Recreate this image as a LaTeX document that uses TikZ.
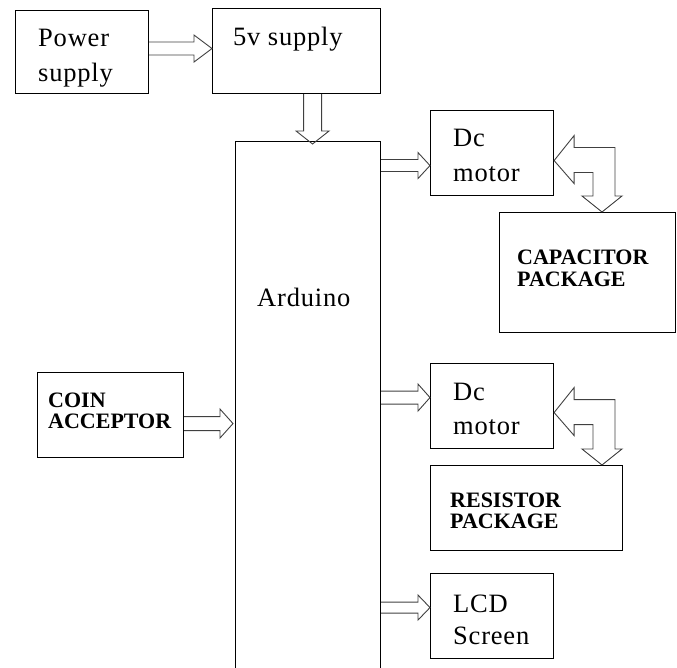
\documentclass[tikz,border=0pt]{standalone}
\usepackage{fontspec}
\setmainfont{Liberation Serif}
\newfontfamily\wideserif[LetterSpace=3]{Liberation Serif}
\usetikzlibrary{calc}
\tikzset{
  box/.style={draw=black, line width=1.1pt, inner sep=0pt, anchor=north west},
  txt/.style={font=\wideserif\fontsize{26.5}{30}\selectfont, inner sep=0pt, anchor=base west},
  btxt/.style={font=\bfseries\fontsize{22}{24}\selectfont, inner sep=0pt, anchor=base west},
  barrow/.style={draw=black!75, line width=0.9pt, line join=miter}
}
\newcommand\blkarrowH[5]{\draw[barrow] let \p1=(#1), \p2=(#2) in
  (\x1,\y2+#3pt) -- (\x2-#5pt,\y2+#3pt) -- (\x2-#5pt,\y2+#4pt) -- (\x2,\y2)
  -- (\x2-#5pt,\y2-#4pt) -- (\x2-#5pt,\y2-#3pt) -- (\x1,\y2-#3pt);}
\newcommand\blkarrowV[5]{\draw[barrow] let \p1=(#1), \p2=(#2) in
  (\x2+#3pt,\y1) -- (\x2+#3pt,\y2+#5pt) -- (\x2+#4pt,\y2+#5pt) -- (\x2,\y2)
  -- (\x2-#4pt,\y2+#5pt) -- (\x2-#3pt,\y2+#5pt) -- (\x2-#3pt,\y1);}
\newcommand\dblarrow[2]{\draw[barrow] let \p1=(#1), \p2=(#2) in
  (\x1,\y1) -- (\x1+20pt,\y1+25pt) -- (\x1+20pt,\y1+13pt) -- (\x2+13pt,\y1+13pt)
  -- (\x2+13pt,\y2+16pt) -- (\x2+20pt,\y2+16pt) -- (\x2,\y2) -- (\x2-20pt,\y2+16pt)
  -- (\x2-9pt,\y2+16pt) -- (\x2-9pt,\y1-12pt) -- (\x1+20pt,\y1-12pt) -- (\x1+20pt,\y1-23pt) -- cycle;}
\begin{document}
\begin{tikzpicture}[x=1pt,y=-1pt]
\useasboundingbox (0,0) rectangle (677,668);
\clip (0,0) rectangle (677,668);
% boxes
\node[box, minimum width=133pt, minimum height=83pt] (ps) at (15,10) {};
\node[box, minimum width=168pt, minimum height=85pt] (sv) at (212,8) {};
\node[box, minimum width=145pt, minimum height=560pt] (ard) at (235,141) {};
\node[box, minimum width=123pt, minimum height=85pt] (dc1) at (430,110) {};
\node[box, minimum width=176pt, minimum height=120pt] (cap) at (499,212) {};
\node[box, minimum width=123pt, minimum height=85pt] (dc2) at (430,363) {};
\node[box, minimum width=192pt, minimum height=85pt] (res) at (430,465) {};
\node[box, minimum width=123pt, minimum height=85pt] (lcd) at (430,573) {};
\node[box, minimum width=146pt, minimum height=85pt] (coin) at (37,372) {};
% texts
\node[txt] (t1) at (38,46.5) {Power};
\node[txt] (t2) at (38,82) {supply};
\node[txt] (t3) at (233,46) {5v supply};
\node[txt] (t4) at (257,306) {Arduino};
\node[txt] (t5) at (453,146.5) {Dc};
\node[txt] (t6) at (453,181.5) {motor};
\node[txt] (t7) at (453,400) {Dc};
\node[txt] (t8) at (453,434) {motor};
\node[txt] (t9) at (453,612) {LCD};
\node[txt] (t10) at (453,644) {Screen};
\node[btxt] (b1) at (517,265) {CAPACITOR};
\node[btxt] (b2) at (517,287) {PACKAGE};
\node[btxt] (b3) at (450,507) {RESISTOR};
\node[btxt] (b4) at (450,528) {PACKAGE};
\node[btxt] (b5) at (48,407) {COIN};
\node[btxt] (b6) at (48,428) {ACCEPTOR};
% arrows
\blkarrowH{ps.east}{$(sv.west)+(0,-2.5)$}{6.5}{13.5}{18}
\blkarrowV{sv.south}{$(ard.north)+(4.5,3)$}{9}{16.5}{13}
\blkarrowH{ard.east}{$(dc1.west)+(0,12.5)$}{6}{13}{12}
\blkarrowH{ard.east}{$(dc2.west)+(0,-8.5)$}{6.5}{13.5}{12}
\blkarrowH{ard.east}{$(lcd.west)+(0,-8.5)$}{5.5}{12.5}{12}
\blkarrowH{coin.east}{$(ard.west |- coin.east)+(-2,8.5)$}{7}{14.5}{13}
\dblarrow{$(dc1.east)+(0,7.5)$}{$(cap.north west)+(103,0)$}
\dblarrow{$(dc2.east)+(0,6.5)$}{$(res.north west)+(172,0)$}
\end{tikzpicture}
\end{document}
